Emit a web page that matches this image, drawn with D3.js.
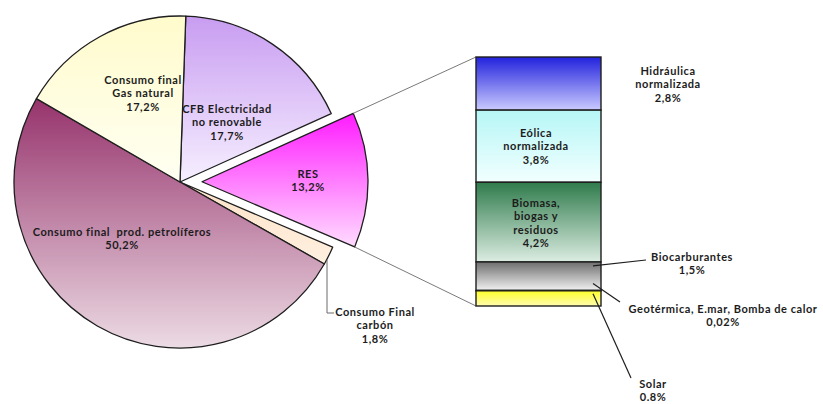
<!DOCTYPE html>
<html lang="es">
<head>
<meta charset="UTF-8">
<title>Consumo final de energía</title>
<script src="https://d3js.org/d3.v7.min.js"></script>
<style>
  body { margin: 0; background: #fff; }
  text { font-family: Lato, "Open Sans", sans-serif; font-weight: 700; font-size: 11px; letter-spacing: 0.55px; fill: #1c1c1c; white-space: pre; }
</style>
</head>
<body>
<svg id="chart" width="823" height="404"></svg>
<script>
// pie slices (clockwise from top)
const pieNames = ["CFB Electricidad\nno renovable", "RES", "Consumo Final\ncarbón", "Consumo final  prod. petrolíferos", "Consumo final\nGas natural"];
const pieValues = [17.7, 13.2, 1.8, 50.2, 17.2];
const pieLabels = ["17,7%", "13,2%", "1,8%", "50,2%", "17,2%"];

// RES breakdown (top to bottom)
const resNames = ["Hidráulica\nnormalizada", "Eólica\nnormalizada", "Biomasa,\nbiogas y\nresiduos", "Biocarburantes", "Geotérmica, E.mar, Bomba de calor", "Solar"];
const resValues = [2.8, 3.8, 4.2, 1.5, 0.02, 0.8];
const resLabels = ["2,8%", "3,8%", "4,2%", "1,5%", "0,02%", "0.8%"];

const pieGrad = [["#c89cf1", "#f6efff"], ["#ff1cff", "#ffdcff"], ["#fde2c8", "#fff0e0"], ["#96336c", "#ecdbe4"], ["#fffbcc", "#fffff2"]];
const resGrad = [["#2222dd", "#cacaff"], ["#b6f6f6", "#f2ffff"], ["#2f7b4c", "#dcede2"], ["#6e6e6e", "#f2f2f2"], ["#bbbbbb", "#bbbbbb"], ["#ffff2a", "#fffbb0"]];

const svg = d3.select("#chart");
const defs = svg.append("defs");
function grad(id, c) {
  const g = defs.append("linearGradient").attr("id", id).attr("x1", 0).attr("y1", 0).attr("x2", 0).attr("y2", 1);
  g.append("stop").attr("offset", "0%").attr("stop-color", c[0]);
  g.append("stop").attr("offset", "100%").attr("stop-color", c[1]);
}
pieGrad.forEach((c, i) => grad("pg" + i, c));
resGrad.forEach((c, i) => grad("rg" + i, c));

function multiline(sel, txt, x, y, lh) {
  const lines = txt.split("\n");
  const t = sel.append("text").attr("text-anchor", "middle");
  lines.forEach((l, k) => t.append("tspan").attr("x", x).attr("y", y + k * lh).text(l));
  return t;
}

// ---- pie ----
const cx = 180, cy = 182, r = 166;
const deg = Math.PI / 180;
const pie = d3.pie().sort(null).value(d => d).startAngle(2 * deg).endAngle(2 * deg + 2 * Math.PI);
const arcs = pie(pieValues);
const arc = d3.arc().innerRadius(0).outerRadius(r);
const explode = 22;

const gPie = svg.append("g").attr("transform", `translate(${cx},${cy})`);
arcs.forEach((a, i) => {
  const mid = (a.startAngle + a.endAngle) / 2;
  const off = i === 1 ? explode : 0;
  gPie.append("path")
    .attr("d", arc(a))
    .attr("transform", `translate(${off * Math.sin(mid)},${-off * Math.cos(mid)})`)
    .attr("fill", `url(#pg${i})`)
    .attr("stroke", "#1e1e1e").attr("stroke-width", 1.3).attr("stroke-linejoin", "round");
});

// ---- RES stacked bar ----
const barX = 476, barW = 125;
const y = d3.scaleLinear().domain([0, d3.sum(resValues)]).range([57, 306]);
let acc = 0;
const segs = resValues.map(v => { const s = { y0: acc, y1: acc + v }; acc += v; return s; });

// connector lines from exploded slice to bar
const res = arcs[1];
const resMid = (res.startAngle + res.endAngle) / 2;
const ox = cx + explode * Math.sin(resMid), oy = cy - explode * Math.cos(resMid);
const pTop = [ox + r * Math.sin(res.startAngle), oy - r * Math.cos(res.startAngle)];
const pBot = [ox + r * Math.sin(res.endAngle), oy - r * Math.cos(res.endAngle)];
svg.append("line").attr("x1", pTop[0]).attr("y1", pTop[1]).attr("x2", barX).attr("y2", y(0)).attr("stroke", "#7a7a7a").attr("stroke-width", 1);
svg.append("line").attr("x1", pBot[0]).attr("y1", pBot[1]).attr("x2", barX).attr("y2", y(acc)).attr("stroke", "#7a7a7a").attr("stroke-width", 1);

segs.forEach((s, i) => {
  svg.append("rect")
    .attr("x", barX).attr("y", y(s.y0))
    .attr("width", barW).attr("height", y(s.y1) - y(s.y0))
    .attr("fill", `url(#rg${i})`)
    .attr("stroke", "#1e1e1e").attr("stroke-width", 1.4);
});

// ---- labels ----
const lh = 13.4;
// pie labels: [x, y of first line]
const piePos = [[227, 113], [308, 178], [375, 316], [122, 236], [143, 84]];
arcs.forEach((a, i) => {
  const [x, y0] = piePos[i];
  multiline(svg, pieNames[i] + "\n" + pieLabels[i], x, y0, lh);
});
// carbón leader
svg.append("path").attr("d", "M327,260 V313 H334").attr("fill", "none").attr("stroke", "#6a6a6a").attr("stroke-width", 1);

// bar labels
const barCx = 536;
const resPos = [[668, 75], [barCx, 137], [barCx, 207], [692, 261], [723, 313], [653, 388]];
resNames.forEach((n, i) => multiline(svg, n + "\n" + resLabels[i], resPos[i][0], resPos[i][1], lh));

// leader lines for small segments
const leaders = [
  [[593, y(segs[3].y0) + 4], [646, 260]],
  [[593, y(segs[4].y0) - 7], [620, 302]],
  [[593, y(segs[5].y0) + 3], [631, 378]]
];
leaders.forEach(l => svg.append("line")
  .attr("x1", l[0][0]).attr("y1", l[0][1]).attr("x2", l[1][0]).attr("y2", l[1][1])
  .attr("stroke", "#1e1e1e").attr("stroke-width", 1.2));
</script>
</body>
</html>
